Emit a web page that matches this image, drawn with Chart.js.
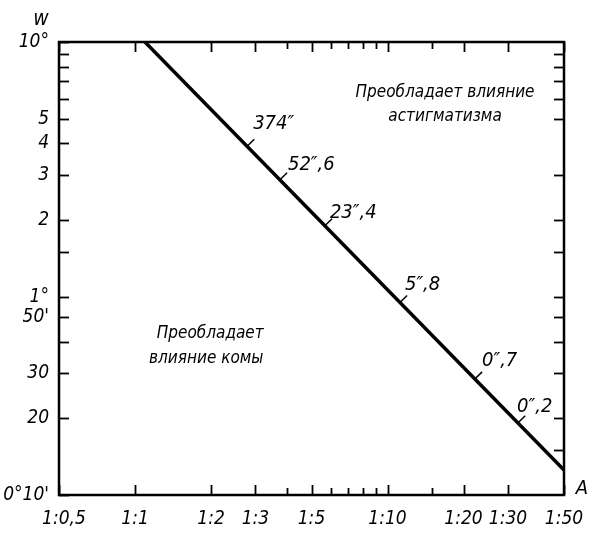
<!DOCTYPE html>
<html>
<head>
<meta charset="utf-8">
<script src="https://cdn.jsdelivr.net/npm/chart.js@4/dist/chart.umd.min.js"></script>
<style>
html,body{margin:0;padding:0;background:#fff;}
#wrap{width:597px;height:533px;position:relative;}
</style>
</head>
<body>
<div id="wrap"><canvas id="c" width="597" height="533"></canvas></div>
<script>
// ---- data (x = aperture denominator n of A = 1:n, y = field angle w in degrees) ----
const lineN = [1.095, 50];
const lineW = [10, 0.209];

const xTickValues = [0.5, 1, 2, 3, 5, 10, 20, 30, 50];
const xTickLabels = ["1:0,5", "1:1", "1:2", "1:3", "1:5", "1:10", "1:20", "1:30", "1:50"];
const xMinorValues = [4, 6, 7, 8, 9, 15];

const yTickValues = [10, 5, 4, 3, 2, 1, 50/60, 30/60, 20/60, 10/60];
const yTickLabels = ["10°", "5", "4", "3", "2", "1°", "50'", "30", "20", "0°10'"];
const yMinorValues = [9, 8, 7, 6, 1.5, 40/60];
const yRightTickValues = [9, 8, 7, 6, 5, 3, 2, 1.5, 1, 50/60, 40/60, 30/60, 20/60, 15/60];

const markN = [2.78, 3.75, 5.65, 11.2, 22.2, 32.9];
const markW = [3.90, 2.88, 1.90, 0.95, 0.476, 0.32];
const markLabels = ["374″", "52″,6", "23″,4", "5″,8", "0″,7", "0″,2"];

const regionAstigLines = ["Преобладает влияние", "астигматизма"];
const regionComaLines = ["Преобладает", "влияние комы"];
const axisTitleY = "w";
const axisTitleX = "A";

// ---- layout / style (kept apart from data) ----
const labelOffsets = [[6,-17],[8,-10],[5,-8],[5,-12],[7,-13],[-1,-11]];
const regionAstigAnchor = {n: 16.9, w: 5.66};
const regionComaAnchor = {n: 1.95, w: 0.646};
const FONT_FAM = '"DejaVu Sans Condensed", "DejaVu Sans", sans-serif';

const drawPlugin = {
  id: 'deco',
  afterDraw(chart) {
    const ctx = chart.ctx;
    const xs = chart.scales.x, ys = chart.scales.y;
    const a = chart.chartArea;
    ctx.save();
    ctx.strokeStyle = '#000';
    ctx.fillStyle = '#000';
    ctx.lineCap = 'butt';
    // frame
    ctx.lineWidth = 2.5;
    ctx.strokeRect(a.left, a.top, a.right - a.left, a.bottom - a.top);
    // x ticks (bottom up, top down)
    ctx.lineWidth = 1.8;
    const xt = (v, len) => {
      const px = Math.round(xs.getPixelForValue(v)) + 0.5;
      ctx.beginPath();
      ctx.moveTo(px, a.bottom); ctx.lineTo(px, a.bottom - len);
      ctx.moveTo(px, a.top); ctx.lineTo(px, a.top + len);
      ctx.stroke();
    };
    xTickValues.forEach(v => xt(v, 10));
    xMinorValues.forEach(v => xt(v, 7));
    // y ticks
    const ytL = (v, len) => {
      const py = Math.round(ys.getPixelForValue(v)) + 0.5;
      ctx.beginPath(); ctx.moveTo(a.left, py); ctx.lineTo(a.left + len, py); ctx.stroke();
    };
    const ytR = (v, len) => {
      const py = Math.round(ys.getPixelForValue(v)) + 0.5;
      ctx.beginPath(); ctx.moveTo(a.right, py); ctx.lineTo(a.right - len, py); ctx.stroke();
    };
    yTickValues.forEach(v => ytL(v, 10));
    yMinorValues.forEach(v => ytL(v, 10));
    yRightTickValues.forEach(v => ytR(v, 10));

    // tick labels
    ctx.font = 'italic 19px ' + FONT_FAM;
    ctx.textAlign = 'center'; ctx.textBaseline = 'middle';
    xTickValues.forEach((v, i) => {
      let px = xs.getPixelForValue(v);
      ctx.fillText(xTickLabels[i], px + (i === 0 ? 5 : 0), a.bottom + 24);
    });
    ctx.font = 'italic 19px ' + FONT_FAM;
    ctx.textAlign = 'right';
    yTickValues.forEach((v, i) => {
      ctx.fillText(yTickLabels[i], a.left - 10, ys.getPixelForValue(v));
    });
    // axis titles
    ctx.textAlign = 'center';
    ctx.font = 'italic 21px ' + FONT_FAM;
    ctx.fillText(axisTitleY, 41, 20);
    ctx.font = 'italic 20px ' + FONT_FAM;
    ctx.fillText(axisTitleX, a.right + 18, a.bottom - 6);

    // marks on the line
    const p0x = xs.getPixelForValue(lineN[0]), p0y = ys.getPixelForValue(lineW[0]);
    const p1x = xs.getPixelForValue(lineN[1]), p1y = ys.getPixelForValue(lineW[1]);
    let dx = p1x - p0x, dy = p1y - p0y; const L = Math.hypot(dx, dy); dx /= L; dy /= L;
    const nx = dy, ny = -dx;
    ctx.lineWidth = 1.5;
    ctx.font = 'italic 20px ' + FONT_FAM;
    ctx.textAlign = 'left'; ctx.textBaseline = 'alphabetic';
    markN.forEach((n, i) => {
      const mx = xs.getPixelForValue(n), my = ys.getPixelForValue(markW[i]);
      ctx.beginPath(); ctx.moveTo(mx, my); ctx.lineTo(mx + nx * 10, my + ny * 10); ctx.stroke();
      ctx.fillText(markLabels[i], mx + labelOffsets[i][0], my + labelOffsets[i][1]);
    });

    // region texts
    ctx.font = 'italic 17px ' + FONT_FAM;
    ctx.textAlign = 'center'; ctx.textBaseline = 'middle';
    let ax = xs.getPixelForValue(regionAstigAnchor.n), ay = ys.getPixelForValue(regionAstigAnchor.w);
    ctx.fillText(regionAstigLines[0], ax, ay - 12);
    ctx.fillText(regionAstigLines[1], ax, ay + 12);
    ax = xs.getPixelForValue(regionComaAnchor.n); ay = ys.getPixelForValue(regionComaAnchor.w);
    ctx.fillText(regionComaLines[0], ax + 2, ay - 12);
    ctx.fillText(regionComaLines[1], ax - 2, ay + 13);
    ctx.restore();
  }
};

new Chart(document.getElementById('c'), {
  type: 'scatter',
  data: {
    datasets: [{
      data: lineN.map((n, i) => ({x: n, y: lineW[i]})),
      showLine: true,
      borderColor: '#000',
      borderWidth: 3.5,
      pointRadius: 0,
      fill: false
    }]
  },
  options: {
    responsive: false,
    animation: false,
    devicePixelRatio: 1,
    layout: {padding: {left: 59, top: 42, right: 33, bottom: 38}},
    plugins: {legend: {display: false}, tooltip: {enabled: false}, title: {display: false}},
    scales: {
      x: {type: 'logarithmic', min: 0.5, max: 50, display: false},
      y: {type: 'logarithmic', min: 10/60, max: 10, display: false}
    }
  },
  plugins: [drawPlugin]
});
</script>
</body>
</html>
